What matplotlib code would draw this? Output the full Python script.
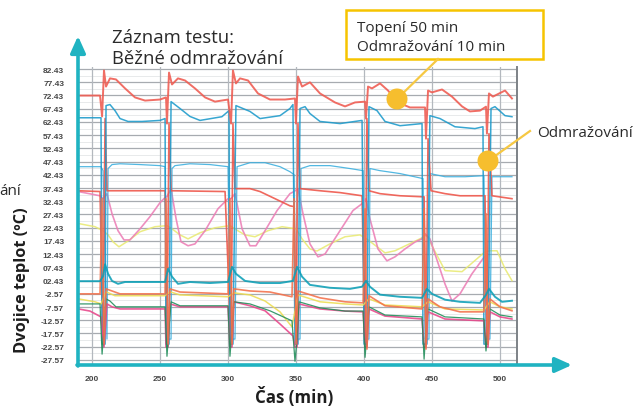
import matplotlib
matplotlib.use("Agg")
import matplotlib.pyplot as plt
from matplotlib.patches import Rectangle, Circle
from matplotlib.lines import Line2D

# ---------------- data (time in min, temperature in °C) ----------------
red_top_t = [190, 205.9, 207.4, 208.8, 210.3, 213.2, 217.6, 224.3, 231.6, 239, 250, 254.4, 255.1, 256.6,
             258.8, 263.2, 268.4, 275.7, 283.1, 290.4, 300, 302.2, 303.6, 305.8, 308.8, 314.7, 322, 330.8,
             341.9, 349.2, 349.9, 351.4, 354.4, 360.2, 367.6, 378.6, 386, 393.3, 400.7, 401.4, 402.9, 405.8,
             411.7, 417.6, 424.9, 433.7, 444.8, 445.5, 447, 449.9, 457.3, 464.6, 472, 477.8, 485.2, 489.6,
             490.3, 491.8, 494.7, 503.6, 508.7]
red_top_v = [72.4, 72.4, 64.5, 81.9, 75.8, 78.9, 78.5, 75.1, 71.7, 70.5, 70.9, 71.7, 61.8, 81.1,
             76.6, 78.9, 78.1, 75.1, 71.7, 70.1, 70.9, 61.8, 81.9, 77.0, 78.9, 78.1, 73.2, 70.9,
             70.9, 71.3, 61.8, 79.6, 75.8, 77.4, 73.2, 69.8, 68.3, 69.8, 70.1, 63.7, 75.8, 75.1,
             77.0, 74.3, 69.8, 67.9, 67.9, 56.1, 74.3, 73.6, 74.7, 72.0, 68.3, 66.4, 66.7, 68.2,
             58.0, 73.2, 72.0, 74.3, 71.3]

blue_t = [190, 206.6, 207.4, 209.6, 210.3, 213.2, 216.9, 220.6, 226.5, 236.8, 250, 253.7, 254.4, 256.6,
          258.1, 264.7, 272, 279.4, 295.5, 300.7, 301.4, 303.6, 305.8, 316.1, 323.5, 338.2, 345.5, 347.7,
          349.2, 351.4, 352.9, 356.6, 360.2, 367.6, 382.3, 398.5, 400, 402.1, 403.6, 409.5, 415.4, 426.4,
          442.6, 443.3, 446.2, 448.4, 455.8, 466.8, 481.5, 487.4, 488.1, 491.1, 493.3, 496.2, 503.6, 508.7]
blue_v = [64.0, 64.0, -21.6, -21.6, 68.6, 69.0, 66.7, 63.7, 62.6, 62.6, 63.0, 63.7, -21.6, -21.6,
          70.1, 67.5, 64.5, 63.0, 64.4, 66.7, -21.6, -21.6, 68.6, 66.4, 63.7, 64.8, 67.5, 69.0,
          -21.6, -21.6, 67.5, 68.2, 65.6, 62.6, 61.8, 63.0, -21.6, -21.6, 68.2, 66.7, 62.6, 61.0,
          61.8, -21.6, -21.6, 64.8, 63.7, 60.6, 59.9, 60.6, -21.6, -21.6, 67.5, 68.2, 64.8, 64.4]

lblue_t = [190, 206.6, 208.1, 211, 211.8, 214.7, 220.6, 235.3, 250, 253.7, 255.1, 258.1, 258.8, 261,
           272, 286.7, 300, 302.2, 305.1, 306.6, 316.1, 327.2, 338.2, 345.5, 348.5, 350, 352.9, 353.6,
           360.2, 374.9, 389.6, 399.3, 400.7, 403.6, 404.3, 411.7, 426.4, 443.3, 444.8, 447.7, 448.4,
           459.5, 474.2, 488.1, 489.6, 492.5, 494, 508.7]
lblue_v = [45.5, 45.5, 44.0, -19.7, 44.8, 46.3, 46.6, 46.3, 45.9, 45.5, -19.7, -19.7, 44.8, 45.9,
           46.6, 46.3, 45.5, -19.7, -19.7, 45.5, 47.0, 47.0, 45.5, 43.6, 42.5, -19.7, -19.7, 44.8,
           45.9, 45.9, 44.8, 44.0, -19.7, -19.7, 44.8, 44.0, 42.9, 41.0, -19.7, -19.7, 42.9,
           41.7, 41.7, 42.1, -19.7, -19.7, 41.7, 41.7]

red_mid_t = [190, 205.9, 208.1, 209.6, 211, 235.3, 253.7, 255.1, 256.6, 258.1, 297.8, 302.2, 303.6, 305.1,
             316.1, 323.5, 334.5, 345.5, 348.5, 350, 351.4, 352.9, 367.6, 382.3, 398.5, 400.7, 402.1,
             403.6, 411.7, 426.4, 444.1, 445.5, 447, 449.2, 459.5, 470.5, 488.9, 490.3, 491.8, 494, 508.7]
red_mid_v = [36.4, 36.1, -19.7, 63.7, 36.4, 36.4, 36.4, -21.6, 61.8, 36.4, 36.1, -21.6, 61.8, 37.2,
             37.2, 36.1, 33.4, 30.7, 30.4, -21.6, 61.8, 37.2, 36.4, 35.7, 34.5, -21.6, 63.7,
             36.4, 35.3, 34.5, 34.1, -21.6, 56.1, 36.4, 35.3, 34.5, 34.5, -21.6, 58.0, 34.5, 33.4]

pink_t = [190, 205.9, 208.1, 211, 214.7, 219.1, 223.5, 227.9, 235.3, 242.6, 250, 253.7, 255.1, 258.1,
          261.8, 265.4, 270.6, 275.7, 283.1, 292.6, 300, 302.2, 305.1, 310.3, 316.1, 320.5, 327.2, 336,
          345.5, 348.5, 351.4, 355.1, 360.2, 366.1, 371.3, 382.3, 391.8, 398.5, 401.4, 404.3, 410.2,
          416.8, 422.7, 430.1, 437.4, 442.6, 444.8, 448.4, 452.1, 459.5, 464.6, 470.5, 479.3, 487.4,
          490.3, 491.8]
pink_v = [36.1, 34.5, 33.4, 35.3, 27.7, 21.3, 17.8, 17.8, 22.0, 26.6, 31.9, 33.8, 34.2, 37.2,
          25.8, 17.1, 15.6, 16.3, 21.3, 29.6, 33.4, 33.4, 35.3, 22.0, 15.6, 15.6, 21.3, 28.9,
          35.3, 36.1, 37.2, 27.7, 16.3, 11.4, 12.5, 21.3, 28.9, 31.5, 33.4, 25.8, 14.4,
          9.9, 11.4, 14.4, 17.0, 18.2, 20.1, 18.2, 12.5, 1.1, -5.3, -2.6, 5.0, 10.7,
          12.6, -4.5]

yellow_t = [190, 202.2, 208.1, 211.8, 215.4, 219.8, 226.5, 235.3, 246.3, 255.1, 258.8, 264.7, 270.6,
            279.4, 290.4, 301.4, 305.8, 312.5, 319.8, 329.4, 339.7, 350, 354.4, 360.2, 365.4, 374.9,
            386, 397, 402.9, 415.4, 422.7, 442.6, 446, 449.9, 459.5, 472, 488.9, 492.5, 497.7, 503.6,
            508.7]
yellow_v = [24.0, 22.8, 21.3, 19.7, 17.1, 15.2, 17.4, 20.9, 22.8, 23.2, 22.0, 19.7, 18.2,
            20.5, 22.4, 23.2, 21.7, 19.7, 19.0, 21.3, 22.8, 22.0, 18.2, 14.4, 13.6, 16.3,
            19.0, 19.7, 17.8, 12.9, 13.7, 18.6, 19.7, 15.6, 6.2, 5.8, 13.3, 13.7, 13.7, 6.9,
            2.4]

teal_t = [190, 205.9, 208.1, 209.6, 211.8, 214.7, 219.1, 224.3, 239, 253.7, 255.9, 258.8, 263.2, 272,
          286.7, 300, 302.9, 305.8, 312.5, 323.5, 338.2, 347.7, 350.7, 354.4, 360.2, 374.9, 389.6,
          398.5, 401.4, 404.3, 411.7, 426.4, 442.6, 446.2, 449.9, 459.5, 470.5, 485.2, 489.6, 491.8,
          496.2, 501.4, 508.7]
teal_v = [2.2, 2.2, 4.1, 8.6, 5.0, 2.3, 1.2, 1.9, 1.9, 1.9, 6.9, 3.9, 1.2, 1.9,
          1.5, 1.9, 7.6, 5.0, 2.3, 1.5, 1.5, 2.3, 7.6, 3.9, 0.8, -0.3, -0.7,
          0.1, 2.3, 0.1, -2.9, -3.7, -4.1, -0.7, -2.6, -4.8, -5.6, -6.0, -3.0, -0.7,
          -3.7, -5.6, -5.2]

orange_t = [190, 205.9, 207.4, 208.8, 210.3, 214.7, 220.6, 253.7, 254.4, 255.9, 257.3, 264.7, 300,
            301.4, 302.9, 304.3, 316.1, 330.8, 347, 348.5, 350, 351.4, 367.6, 386, 399.3, 400.7,
            402.1, 403.6, 415.4, 442.6, 444.1, 445.5, 447, 455.8, 470.5, 488.1, 489.6, 491.1, 492.5,
            499.9, 508.7]
orange_v = [-2.6, -2.6, 33.4, -21.6, -0.7, -1.5, -2.6, -2.6, 33.4, -21.6, -0.7, -1.9, -2.6,
            33.4, -21.6, -0.7, -1.5, -1.9, -3.7, 33.4, -21.6, -1.5, -4.1, -5.6, -6.0, 29.6,
            -23.5, -3.3, -7.1, -8.3, 29.6, -23.5, -4.5, -7.5, -9.4, -9.4, 27.7, -21.6, -4.5,
            -7.5, -9.0]

yellow_low_t = [190, 202.2, 206.6, 210.3, 216.9, 253.7, 257.3, 264.7, 300, 304.3, 316.1, 327.2, 338.2,
                347, 351.4, 367.6, 386, 399.3, 403.6, 415.4, 442.6, 447, 459.5, 488.1, 492.5, 499.9,
                508.7]
yellow_low_v = [-4.5, -5.6, -6.4, -1.8, -3.3, -3.3, -1.8, -3.0, -3.7, -2.2, -3.0, -5.3, -9.4,
                -15.1, -3.0, -5.6, -6.4, -6.8, -4.5, -6.8, -7.5, -5.6, -8.3, -8.7, -5.6, -7.5,
                -8.3]

pink_low_t = [190, 198.5, 206.6, 208.8, 211, 214.7, 220.6, 253.7, 254.4, 255.9, 257.3, 264.7, 300,
              301.4, 302.9, 304.3, 316.1, 327.2, 338.2, 347.7, 349.2, 350.7, 352.1, 367.6, 386, 399.3,
              400.7, 402.1, 403.6, 415.4, 442.6, 444.1, 445.5, 447, 459.5, 488.1, 489.6, 491.1, 492.5,
              499.9, 508.7]
pink_low_v = [-8.3, -9.1, -11.3, -22.7, -6.4, -7.5, -8.3, -8.3, -22.7, -22.7, -6.4, -7.5, -7.5,
              -22.7, -22.7, -5.6, -7.1, -9.0, -14.0, -18.5, -22.7, -22.7, -6.4, -8.3, -9.1, -9.4,
              -22.7, -22.7, -8.3, -11.0, -12.1, -22.7, -22.7, -9.4, -12.1, -12.8, -22.7, -22.7, -9.4,
              -11.3, -12.1]

green_t = [190, 205.9, 207.4, 208.8, 210.3, 213.2, 217.6, 253.7, 255.1, 256.6, 258.1, 264.7, 300,
           301.4, 302.9, 304.3, 316.1, 330.8, 347, 349.2, 350.7, 352.1, 367.6, 386, 399.3, 400.7,
           402.1, 403.6, 415.4, 442.6, 444.1, 445.5, 447, 459.5, 488.1, 489.6, 491.1, 492.5, 499.9,
           508.7]
green_v = [-6.4, -6.4, -25.4, -15.9, -4.5, -5.3, -7.5, -7.5, -26.2, -15.9, -5.6, -7.1, -7.1,
           -26.2, -15.9, -5.6, -6.4, -9.0, -12.8, -28.1, -19.7, -5.6, -7.9, -9.1, -9.1, -26.6,
           -17.8, -7.5, -10.6, -11.3, -27.3, -15.9, -8.3, -11.3, -12.1, -24.2, -15.9, -8.3, -10.6,
           -11.3]

y_ticks = [82.43, 77.43, 72.43, 67.43, 62.43, 57.43, 52.43, 47.43, 42.43, 37.43, 32.43, 27.43,
           22.43, 17.43, 12.43, 7.43, 2.43, -2.57, -7.57, -12.57, -17.57, -22.57, -27.57]
y_tick_labels = ["82.43", "77.43", "72.43", "67.43", "62.43", "57.43", "52.43", "47.43", "42.43",
                 "37.43", "32.43", "27.43", "22.43", "17.43", "12.43", "07.43", "02.43", "-2.57",
                 "-7.57", "-12.57", "-17.57", "-22.57", "-27.57"]
x_ticks = [200, 250, 300, 350, 400, 450, 500]
x_tick_labels = ["200", "250", "300", "350", "400", "450", "500"]

# ---------------- figure ----------------
W, H = 635, 410
fig = plt.figure(figsize=(W / 100, H / 100), dpi=100)
fig.patch.set_facecolor("white")
ax = fig.add_axes([78 / W, 44 / H, (517 - 78) / W, (366 - 68) / H])
ax.set_xlim(189.7, 512.4)
ax.set_ylim(-29.5, 83.2)

for s in ["top", "left", "bottom"]:
    ax.spines[s].set_visible(False)
ax.spines["right"].set_color("#7d8287")
ax.spines["right"].set_linewidth(1.4)

# grid
for yv in y_ticks:
    ax.axhline(yv, color="#a7abb0", lw=0.9, zorder=0)
for i in range(len(y_ticks) - 1):
    ax.axhline((y_ticks[i] + y_ticks[i + 1]) / 2, color="#e4e6e8", lw=0.6, zorder=0)
for xv in x_ticks:
    ax.axvline(xv, color="#b3b8be", lw=0.9, zorder=0)

ax.set_yticks(y_ticks)
ax.set_yticklabels(y_tick_labels)
ax.set_xticks(x_ticks)
ax.set_xticklabels(x_tick_labels)
ax.tick_params(axis="both", length=0, labelsize=6, labelcolor="#474747")
ax.tick_params(axis="y", pad=10)
ax.tick_params(axis="x", pad=7)
for lab in ax.get_xticklabels() + ax.get_yticklabels():
    lab.set_fontweight("bold")
    lab.set_family("Liberation Sans")

series = [
    (yellow_t, yellow_v, "#e9ea72", 1.1),
    (pink_t, pink_v, "#ec7fb6", 1.2),
    (lblue_t, lblue_v, "#3aaede", 0.9),
    (red_mid_t, red_mid_v, "#ee5448", 1.2),
    (blue_t, blue_v, "#1b9acb", 1.1),
    (red_top_t, red_top_v, "#ef5a50", 1.4),
    (yellow_low_t, yellow_low_v, "#ecdc52", 1.1),
    (pink_low_t, pink_low_v, "#e8468a", 1.2),
    (green_t, green_v, "#1e8c58", 0.9),
    (orange_t, orange_v, "#f3704a", 1.2),
    (teal_t, teal_v, "#0c9fb6", 1.4),
]
for t, v, c, lw in series:
    ax.plot(t, v, color=c, lw=lw, alpha=0.88, solid_joinstyle="round")

teal = "#1fb3c1"
def fx(px):
    return px / W
def fy(py):
    return 1 - py / H

# axis arrows
ax.annotate("", xy=(fx(78), fy(37)), xytext=(fx(78), fy(367)), xycoords="figure fraction",
            textcoords="figure fraction",
            arrowprops=dict(arrowstyle="-|>,head_length=1.0,head_width=0.45", color=teal, lw=2.6,
                            shrinkA=0, shrinkB=0))
ax.annotate("", xy=(fx(572), fy(366)), xytext=(fx(77), fy(366)), xycoords="figure fraction",
            textcoords="figure fraction",
            arrowprops=dict(arrowstyle="-|>,head_length=1.0,head_width=0.45", color=teal, lw=2.6,
                            shrinkA=0, shrinkB=0))

# titles and labels
txt_col = "#2a2a2a"
fig.text(fx(112), fy(43), "Záznam testu:", fontsize=13.3, color=txt_col, family="Open Sans",
         va="baseline")
fig.text(fx(112), fy(64), "Běžné odmražování", fontsize=13.3, color=txt_col, family="Open Sans",
         va="baseline")
fig.text(fx(22), fy(280), "Dvojice teplot (ºC)", rotation=90, ha="center", va="center",
         fontsize=11.8, fontweight="bold", color="#1e1e1e", family="Open Sans")
fig.text(fx(294), fy(397), "Čas (min)", ha="center", va="center",
         fontsize=12.2, fontweight="bold", color="#1e1e1e", family="Open Sans")

# yellow box
fig.add_artist(Rectangle((fx(346), fy(60)), 197 / W, 49 / H, transform=fig.transFigure,
                         facecolor="white", edgecolor="#f6c400", lw=1.8, zorder=3))
fig.text(fx(357), fy(32), "Topení 50 min", fontsize=11, color=txt_col, family="Open Sans",
         va="baseline", zorder=4)
fig.text(fx(357), fy(51), "Odmražování 10 min", fontsize=11, color=txt_col, family="Open Sans",
         va="baseline", zorder=4)
fig.text(fx(537), fy(137), "Odmražování", fontsize=11, color=txt_col, family="Open Sans",
         va="baseline")
fig.text(fx(-1), fy(195), "ání", fontsize=11, color=txt_col, family="Open Sans", va="baseline")

# callouts
dst = fig.dpi_scale_trans
ycol = "#f6c843"
fig.add_artist(Line2D([438 / 100, 397 / 100], [(H - 60) / 100, (H - 100) / 100], transform=dst,
                      color=ycol, lw=1.6, zorder=3))
fig.add_artist(Circle((397 / 100, (H - 100) / 100), 10.5 / 100, transform=dst,
                      facecolor="#f6be2e", edgecolor="none", zorder=4))
fig.add_artist(Line2D([530 / 100, 488 / 100], [(H - 132) / 100, (H - 162) / 100], transform=dst,
                      color=ycol, lw=1.6, zorder=3))
fig.add_artist(Circle((488 / 100, (H - 162) / 100), 10.5 / 100, transform=dst,
                      facecolor="#f6be2e", edgecolor="none", zorder=4))

fig.savefig("out.png", dpi=100, facecolor="white")
